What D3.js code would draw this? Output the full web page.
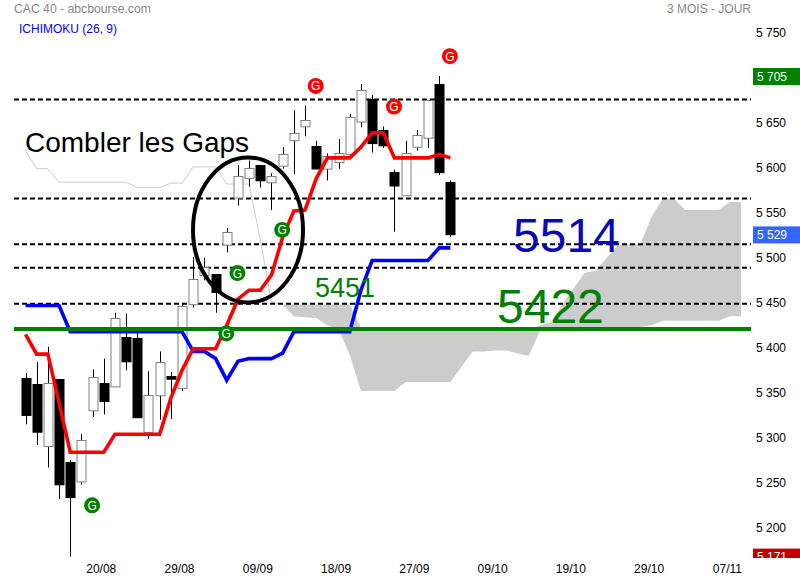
<!DOCTYPE html>
<html><head><meta charset="utf-8">
<script src="https://cdnjs.cloudflare.com/ajax/libs/d3/7.8.5/d3.min.js"></script>
<style>html,body{margin:0;padding:0;background:#fff}svg{display:block}text{font-family:"Liberation Sans",Arial,sans-serif}</style>
</head><body><svg id="c" width="800" height="580"></svg>
<script>
const high =[5375,5387,5404,5368,5278,5307,5379,5391,5442,5441,5422,5377,5399,5376,5453,5504,5503,5485,5536,5606,5611,5606,5597,5626,5667,5672,5633,5619,5635,5663,5696,5684,5649,5601,5633,5645,5678,5705,5589];
const open =[5369,5363,5294,5368,5276,5255,5334,5364,5360,5415,5414,5310,5350,5372,5359,5452,5484,5485,5518,5570,5592,5606,5587,5605,5634,5649,5627,5602,5610,5618,5655,5679,5645,5598,5573,5627,5636,5696,5587];
const close=[5328,5310,5364,5251,5237,5301,5371,5344,5436,5388,5326,5351,5387,5369,5450,5480,5493,5465,5532,5594,5603,5589,5594,5618,5642,5656,5602,5616,5620,5659,5690,5630,5628,5583,5620,5640,5678,5598,5529];
const low  =[5318,5295,5270,5235,5171,5251,5326,5329,5360,5378,5326,5302,5323,5324,5355,5448,5478,5442,5509,5561,5582,5581,5556,5602,5596,5638,5602,5589,5602,5613,5648,5620,5625,5532,5573,5622,5625,5595,5526];
const tenkan=[5418,5396,5396,5342,5287,5287,5287,5287,5307,5307,5307,5307,5307,5347,5378,5402,5402,5402,5428,5457,5467,5467,5484,5526,5555,5556,5591,5614,5614,5614,5626,5642,5642,5614,5614,5614,5614,5618,5614];
const kijun=[5450,5450,5450,5450,5421,5421,5421,5421,5421,5421,5421,5421,5421,5421,5421,5399,5399,5391,5367,5388,5391,5391,5391,5397,5421,5421,5421,5421,5421,5421,5467,5500,5500,5500,5500,5500,5500,5514,5514];
const senkouTop=[5622,5602,5602,5587,5587,5587,5587,5587,5587,5587,5581,5581,5581,5586,5586,5604,5604,5604,5585,5585,5585,5523,5454,5451,5451,5451,5451,5451,5451,5451,5426,5424,5424,5424,5424,5424,5424,5424,5424,5424,5424,5424,5424,5424,5424,5422,5428,5431,5451,5469,5486,5489,5503,5517,5518,5518,5549,5569,5569,5556,5556,5556,5556,5565,5565];
const cloudStart=23;
const senkouBottom=[5451,5438,5437,5436,5428,5424,5395,5355,5355,5355,5355,5365,5365,5365,5365,5365,5382,5399,5399,5400,5400,5397,5394,5421,5426,5426,5426,5426,5426,5426,5426,5426,5426,5428,5433,5433,5433,5433,5433,5433,5438,5438];
const dashedLevels=[5679,5569,5518,5492,5452];
const supportLevel=5424;
const signalsGreen=[[6,5228],[18,5419],[19,5486],[23,5534]];
const signalsRed=[[26,5694],[33,5671],[38,5727]];
const priceTicks=[5750,5700,5650,5600,5550,5500,5450,5400,5350,5300,5250,5200];
const dateLabels=["20/08","29/08","09/09","18/09","27/09","09/10","19/10","29/10","07/11"];
const dateIndex=[7,14,21,28,35,42,49,56,63];
const priceTags=[[5705,"#008000"],[5529,"#3366ff"],[5171,"#c00000"]];

const x=d3.scaleLinear().domain([0,63]).range([25.5,729.9]);
const y=d3.scaleLinear().domain([5171,5750]).range([556.6,35.5]);
const svg=d3.select("#c");
const plotL=14, plotR=751;
const loc=d3.formatLocale({decimal:",",thousands:" ",grouping:[3],currency:["","€"]});
const fmt=loc.format(",d");

const line=d3.line().x(d=>x(d.i)).y(d=>y(d.v));
const topPts=senkouTop.map((v,i)=>({i,v}));
svg.append("path").attr("d",line(topPts.filter(d=>d.i<=cloudStart))).attr("fill","none").attr("stroke","#cccccc").attr("stroke-width",1);
const area=d3.area().x(d=>x(d.i)).y0(d=>y(senkouBottom[d.i-cloudStart])).y1(d=>y(d.v));
svg.append("path").attr("d",area(topPts.filter(d=>d.i>=cloudStart))).attr("fill","#cccccc");

svg.selectAll(".lvl").data(dashedLevels).join("line").attr("x1",plotL).attr("x2",plotR)
 .attr("y1",d=>y(d)).attr("y2",d=>y(d)).attr("stroke","#000").attr("stroke-width",2).attr("stroke-dasharray","5,3");

const idx=d3.range(high.length);
svg.selectAll(".wick").data(idx).join("line").attr("x1",i=>Math.round(x(i))+.5).attr("x2",i=>Math.round(x(i))+.5)
 .attr("y1",i=>y(high[i])).attr("y2",i=>y(low[i])).attr("stroke","#000").attr("stroke-width",1);
svg.selectAll(".body").data(idx).join("rect")
 .attr("x",i=>Math.round(x(i))-4).attr("width",9)
 .attr("y",i=>Math.round(y(Math.max(open[i],close[i])))+.5)
 .attr("height",i=>Math.max(1,Math.abs(y(open[i])-y(close[i]))))
 .attr("fill",i=>close[i]>=open[i]?"#fff":"#000")
 .attr("stroke",i=>close[i]>=open[i]?"#808080":"#000").attr("stroke-width",1);

const l2=d3.line().x((d,i)=>x(i)).y(d=>y(d));
svg.append("path").attr("d",l2(kijun)).attr("fill","none").attr("stroke","#0000ff").attr("stroke-width",3.6);
svg.append("path").attr("d",l2(tenkan)).attr("fill","none").attr("stroke","#ff0000").attr("stroke-width",3.6);

svg.append("line").attr("x1",plotL).attr("x2",plotR).attr("y1",y(supportLevel)).attr("y2",y(supportLevel)).attr("stroke","#008000").attr("stroke-width",4);

svg.append("ellipse").attr("cx",x(19.9)).attr("cy",y(5534)).attr("rx",55).attr("ry",72.5).attr("fill","none").attr("stroke","#000").attr("stroke-width",4);

function sig(data,col){
 const g=svg.selectAll(null).data(data).join("g").attr("transform",d=>`translate(${x(d[0])-0.5},${y(d[1])})`);
 g.append("circle").attr("r",8).attr("fill",col);
 g.append("text").attr("text-anchor","middle").attr("y",4.5).attr("font-size",12).attr("fill","#fff").text("G");
}
sig(signalsGreen,"#008000"); sig(signalsRed,"#ff0000");

function t(xx,yy,s,size,col,anchor){return svg.append("text").attr("x",xx).attr("y",yy).attr("font-size",size).attr("fill",col).attr("text-anchor",anchor||"start").text(s);}
t(25,152,"Combler les Gaps",28,"#000");
t(513,252,"5514",48,"#0a0ab4");
t(497,323,"5422",48,"#008000");
t(315,297,"5451",27,"#008000");
t(14,13,"CAC 40 - abcbourse.com",12.2,"#888");
t(751,13,"3 MOIS - JOUR",12,"#888","end");
t(19,33,"ICHIMOKU (26, 9)",12,"#0000ff");

const ay=d3.axisRight(y).tickValues(priceTicks).tickFormat(fmt).tickSize(0).tickPadding(0);
const gy=svg.append("g").attr("transform","translate(756,-3)").call(ay);
gy.select(".domain").remove(); gy.selectAll("text").attr("font-size",12).attr("fill","#000").attr("font-family",null);

const tags=svg.append("g");
tags.selectAll("rect").data(priceTags).join("rect").attr("x",753).attr("width",47).attr("y",d=>y(d[0])-8).attr("height",17).attr("fill",d=>d[1]);
tags.selectAll("text").data(priceTags).join("text").attr("x",757).attr("y",d=>y(d[0])+4.5).attr("font-size",12).attr("fill","#fff").text(d=>fmt(d[0]));
svg.append("rect").attr("x",0).attr("y",558).attr("width",800).attr("height",22).attr("fill","#fff");

const ax=d3.axisBottom(x).tickValues(dateIndex).tickFormat((d,i)=>dateLabels[i]).tickSize(0).tickPadding(0);
const gx=svg.append("g").attr("transform","translate(-3,564)").call(ax);
gx.select(".domain").remove(); gx.selectAll("text").attr("font-size",12).attr("fill","#000").attr("font-family",null);
</script></body></html>
